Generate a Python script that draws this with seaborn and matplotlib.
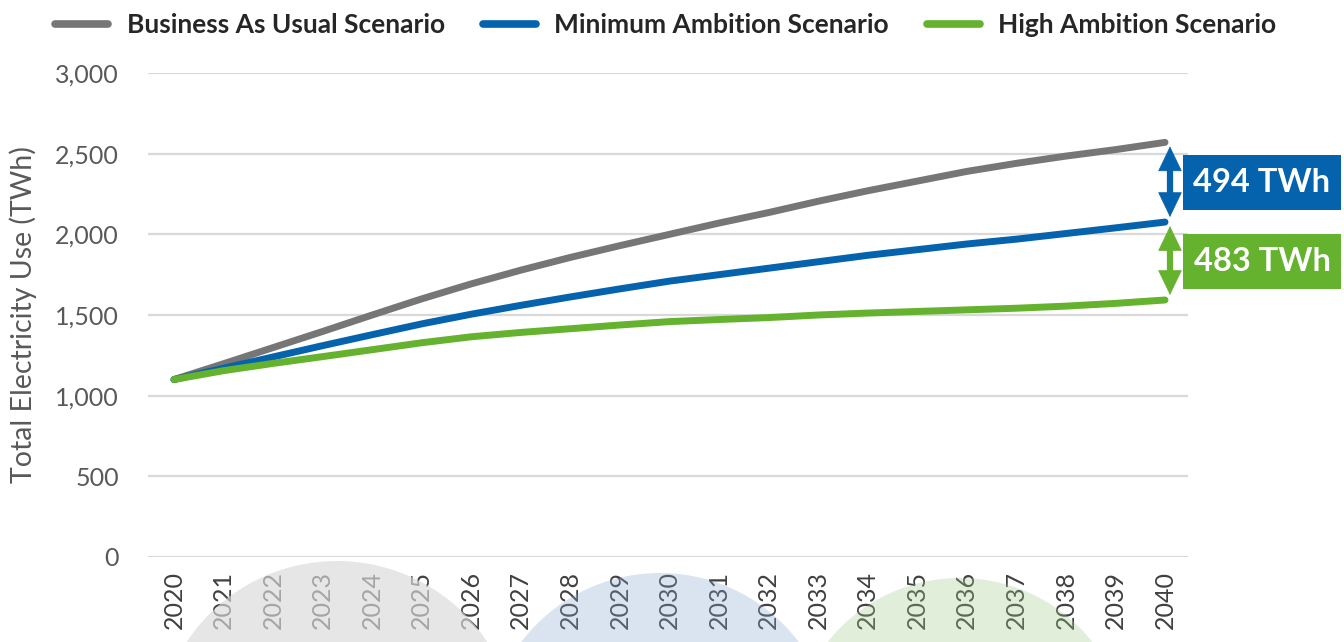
import matplotlib
matplotlib.use("Agg")
import matplotlib.pyplot as plt
import matplotlib.transforms as mtransforms
from matplotlib.patches import Ellipse, Rectangle
import seaborn as sns
import pandas as pd

# ---- data ----
years = list(range(2020, 2041))
bau = [1100, 1198, 1298, 1398, 1500, 1600, 1693, 1778, 1857, 1930, 2000,
       2070, 2135, 2205, 2270, 2330, 2390, 2440, 2485, 2525, 2570]
min_amb = [1100, 1170, 1240, 1310, 1378, 1445, 1505, 1560, 1612, 1662, 1710,
           1750, 1790, 1830, 1870, 1905, 1940, 1970, 2005, 2040, 2076]
high_amb = [1100, 1155, 1200, 1242, 1285, 1328, 1365, 1392, 1415, 1438, 1459,
            1472, 1484, 1500, 1512, 1522, 1532, 1542, 1555, 1572, 1593]
series_names = ["Business As Usual Scenario", "Minimum Ambition Scenario", "High Ambition Scenario"]
colors = ["#767676", "#0563AE", "#64B22E"]
y_ticks = [0, 500, 1000, 1500, 2000, 2500, 3000]

df = pd.DataFrame({
    "Year": years * 3,
    "Value": bau + min_amb + high_amb,
    "Scenario": [series_names[0]] * len(years) + [series_names[1]] * len(years) + [series_names[2]] * len(years),
})

sns.set_theme(style="white")
plt.rcParams["font.family"] = ["Lato", "DejaVu Sans"]

W, H = 1344, 642
fig = plt.figure(figsize=(W / 100, H / 100), dpi=100)
ax_left, ax_right = 148, 1188
ax_top, ax_bottom = 73, 557
ax = fig.add_axes([ax_left / W, 1 - ax_bottom / H, (ax_right - ax_left) / W, (ax_bottom - ax_top) / H])
ax.set_facecolor("none")

sns.lineplot(data=df, x="Year", y="Value", hue="Scenario", palette=colors,
             linewidth=5, ax=ax, legend=True)
for ln in ax.get_lines():
    ln.set_solid_capstyle("round")
    ln.set_solid_joinstyle("round")

px_per_year = (1165 - 174) / 20
ax.set_xlim(2020 - 26 / px_per_year, 2040 + 23 / px_per_year)
ax.set_ylim(0, 3000)
ax.set_yticks(y_ticks)
ax.set_yticklabels([f"{v:,}" for v in y_ticks])
ax.set_xticks(years)
ax.set_xticklabels([str(y) for y in years], rotation=90)
ax.grid(axis="y", color="#d9d9d9", linewidth=1.6)
ax.grid(axis="x", visible=False)
for s in ax.spines.values():
    s.set_visible(False)
ax.tick_params(axis="y", length=0, pad=21, labelsize=18, labelcolor="#595959")
ax.tick_params(axis="x", length=0, pad=10, labelsize=18, labelcolor="#404040")
ax.set_xlabel("")
ax.set_ylabel("Total Electricity Use (TWh)", fontsize=20.5, color="#595959")
ax.yaxis.set_label_coords(-0.107, 0.5)

# legend
handles, labels = ax.get_legend_handles_labels()
ax.get_legend().remove()
for h in handles:
    h.set_linewidth(5.5)
fig.legend(handles, labels, loc="center", bbox_to_anchor=(666 / W, 1 - 25 / H),
           ncol=3, frameon=False, handlelength=2.0, handletextpad=0.7,
           columnspacing=1.45, prop={"weight": "bold", "size": 19})

# difference arrows and boxes
end_vals = [bau[-1], min_amb[-1], high_amb[-1]]
x_arrow = 2040 + 5 / px_per_year
data_per_px = 3000 / (ax_bottom - ax_top)
blend = mtransforms.blended_transform_factory(ax.transAxes, ax.transData)
box_x0 = (1183 - ax_left) / (ax_right - ax_left)
box_w = (1341 - 1183) / (ax_right - ax_left)
box_h = 55 * data_per_px
for i, col in enumerate([colors[1], colors[2]]):
    top, bot = end_vals[i], end_vals[i + 1]
    tip_top = top - 4 * data_per_px
    tip_bot = bot + 5 * data_per_px
    mid = (top + bot) / 2
    ax.plot([x_arrow, x_arrow], [tip_bot + 15 * data_per_px, tip_top - 15 * data_per_px],
            color=col, lw=4.5, solid_capstyle="butt", clip_on=False)
    for tip in (tip_top, tip_bot):
        ax.annotate("", xy=(x_arrow, tip), xytext=(x_arrow, mid),
                    arrowprops=dict(arrowstyle="-|>,head_length=1.0,head_width=0.48",
                                    mutation_scale=17, color=col, lw=0.5,
                                    shrinkA=0, shrinkB=0),
                    annotation_clip=False)
    ax.add_patch(Rectangle((box_x0, mid - box_h / 2), box_w, box_h, transform=blend,
                           facecolor=col, edgecolor="none", clip_on=False, zorder=5))
    ax.text(box_x0 + box_w / 2, mid, f"{top - bot:.0f} TWh", transform=blend,
            ha="center", va="center", color="white", fontsize=23.5, fontweight="bold",
            zorder=6, clip_on=False)

# decorative translucent circles at bottom
circles = [((337, 741), 180, "#dadada", 0.66),
           ((660, 747), 174, "#84a8d0", 0.30),
           ((960, 747), 169, "#9ec984", 0.30)]
for (cx, cy), r, c, a in circles:
    fig.add_artist(Ellipse((cx / W, 1 - cy / H), 2 * r / W, 2 * r / H,
                           transform=fig.transFigure, facecolor=c, edgecolor="none",
                           alpha=a, zorder=10))

fig.savefig("out.png", dpi=100)
